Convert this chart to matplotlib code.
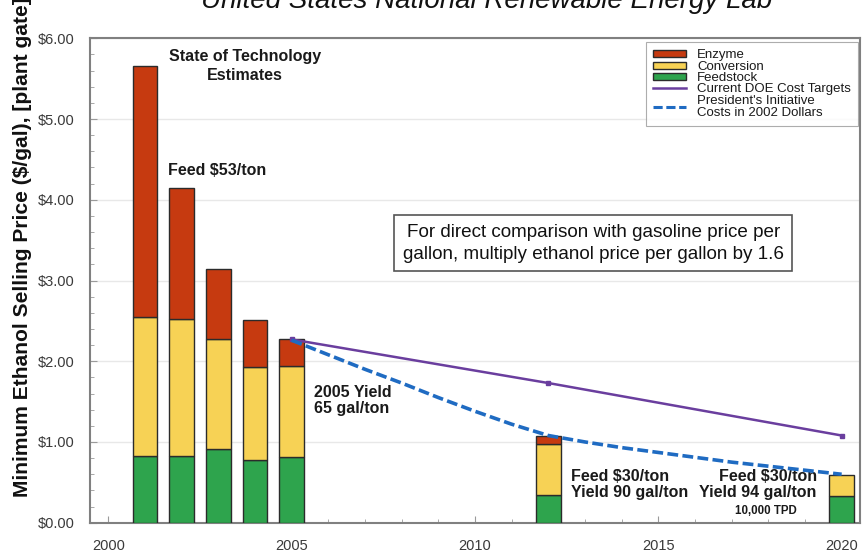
import matplotlib
matplotlib.use("Agg")
import matplotlib.pyplot as plt
from matplotlib.patches import Patch
from matplotlib.lines import Line2D
from matplotlib.ticker import MultipleLocator, FuncFormatter

plt.rcParams['font.family'] = ['Liberation Sans', 'DejaVu Sans']

# Cost breakdown for the state-of-technology estimates and targets
years = [2001, 2002, 2003, 2004, 2005, 2012, 2020]
feedstock = [0.82, 0.82, 0.91, 0.78, 0.81, 0.34, 0.33]
conversion = [1.73, 1.70, 1.37, 1.15, 1.13, 0.64, 0.26]
enzyme = [3.11, 1.62, 0.86, 0.58, 0.33, 0.10, 0.00]

# Current DOE cost targets
doe_years = [2005, 2012, 2020]
doe_cost = [2.27, 1.73, 1.08]

# President's Initiative, costs in 2002 dollars
pi_years = [2005, 2006, 2007, 2008, 2009, 2010, 2011, 2012,
            2013, 2014, 2015, 2016, 2017, 2018, 2019, 2020]
pi_cost = [2.26, 2.08, 1.90, 1.73, 1.55, 1.38, 1.22, 1.08,
           1.00, 0.93, 0.87, 0.81, 0.75, 0.70, 0.65, 0.60]

c_enz = '#C63A10'
c_conv = '#F7D255'
c_feed = '#2EA44D'
c_doe = '#6A3E9E'
c_pi = '#1F6BC2'
edge = '#2b2b2b'

fig = plt.figure(figsize=(8.64, 5.56), dpi=100)
ax = fig.add_axes([90/864, 1-522.7/556, 770/864, 484.4/556])

w = 0.68
ax.bar(years, feedstock, w, color=c_feed, edgecolor=edge, linewidth=1, zorder=3)
ax.bar(years, conversion, w, bottom=feedstock, color=c_conv, edgecolor=edge,
       linewidth=1, zorder=3)
bottom3 = [f + c for f, c in zip(feedstock, conversion)]
enz_years = [y for y, e in zip(years, enzyme) if e > 0]
enz_vals = [e for e in enzyme if e > 0]
enz_bot = [b for b, e in zip(bottom3, enzyme) if e > 0]
ax.bar(enz_years, enz_vals, w, bottom=enz_bot, color=c_enz, edgecolor=edge,
       linewidth=1, zorder=3)

ax.plot(doe_years, doe_cost, color=c_doe, lw=1.8, marker='s', ms=3.5, zorder=4)
ax.plot(pi_years, pi_cost, color=c_pi, lw=2.6, ls=(0, (3, 1.2)), zorder=5)

ax.set_xlim(1999.5, 2020.5)
ax.set_ylim(0, 6)
ax.xaxis.set_major_locator(MultipleLocator(5))
ax.xaxis.set_minor_locator(MultipleLocator(1))
ax.yaxis.set_major_locator(MultipleLocator(1))
ax.yaxis.set_minor_locator(MultipleLocator(0.2))
ax.yaxis.set_major_formatter(FuncFormatter(lambda v, p: f'${v:.2f}'))
ax.tick_params(which='both', direction='in', color='#9a9a9a', labelcolor='#3a3a3a',
               labelsize=10.5)
ax.tick_params(which='major', length=5)
ax.tick_params(which='minor', length=3)
ax.tick_params(axis='x', pad=12)
ax.tick_params(axis='y', pad=11)
ax.grid(axis='y', which='major', color='#e8e8e8', lw=1, zorder=0)
for s in ax.spines.values():
    s.set_color('#808080')
    s.set_linewidth(1.5)

ax.set_ylabel('Minimum Ethanol Selling Price ($/gal), [plant gate]',
              fontsize=15.1, fontweight='bold', color='#111111')
ax.yaxis.set_label_coords(-0.075, 0.568)

fig.text(0.563, 1 - 8/556, 'United States National Renewable Energy Lab',
         ha='center', va='baseline', fontsize=20, style='italic', color='#111111')

bold = dict(fontweight='bold', fontsize=11.5, color='#1a1a1a')
ax.text(2003.73, 5.87, 'State of Technology\nEstimates', ha='center', va='top',
        linespacing=1.35, **bold)
ax.text(2001.63, 4.36, 'Feed $53/ton', ha='left', va='center', **bold)
ax.text(2005.6, 1.51, '2005 Yield\n65 gal/ton', ha='left', va='center',
        linespacing=1.05, **bold)
ax.text(2012.62, 0.47, 'Feed $30/ton\nYield 90 gal/ton', ha='left', va='center',
        linespacing=1.05, **bold)
ax.text(2019.32, 0.47, 'Feed $30/ton\nYield 94 gal/ton', ha='right', va='center',
        multialignment='right', linespacing=1.05, **bold)
ax.text(2017.93, 0.15, '10,000 TPD', ha='center', va='center',
        fontsize=8.3, fontweight='bold', color='#1a1a1a')

ax.text(2013.23, 3.46,
        'For direct comparison with gasoline price per\ngallon, multiply ethanol price per gallon by 1.6',
        ha='center', va='center', fontsize=13.6, color='#111111', linespacing=1.4,
        bbox=dict(boxstyle='square,pad=0.45', fc='white', ec='#555555', lw=1.2),
        zorder=6)

handles = [
    Patch(facecolor=c_enz, edgecolor=edge, label='Enzyme'),
    Patch(facecolor=c_conv, edgecolor=edge, label='Conversion'),
    Patch(facecolor=c_feed, edgecolor=edge, label='Feedstock'),
    Line2D([], [], color=c_doe, lw=1.8, label='Current DOE Cost Targets'),
    Line2D([], [], color=c_pi, lw=2.2, ls=(0, (3, 1.2)),
           label="President's Initiative\nCosts in 2002 Dollars"),
]
leg = ax.legend(handles=handles, loc='upper right', bbox_to_anchor=(0.998, 0.992),
                borderaxespad=0, fontsize=9.5, frameon=True, fancybox=False,
                handlelength=2.5, handleheight=0.45, labelspacing=-0.05,
                borderpad=0.55, handletextpad=0.85)
leg.get_frame().set_edgecolor('#999999')
leg.get_frame().set_linewidth(0.8)
for t in leg.get_texts():
    t.set_color('#1a1a1a')
    t.set_linespacing(1.0)

fig.savefig('out.png', dpi=100, facecolor='white')
